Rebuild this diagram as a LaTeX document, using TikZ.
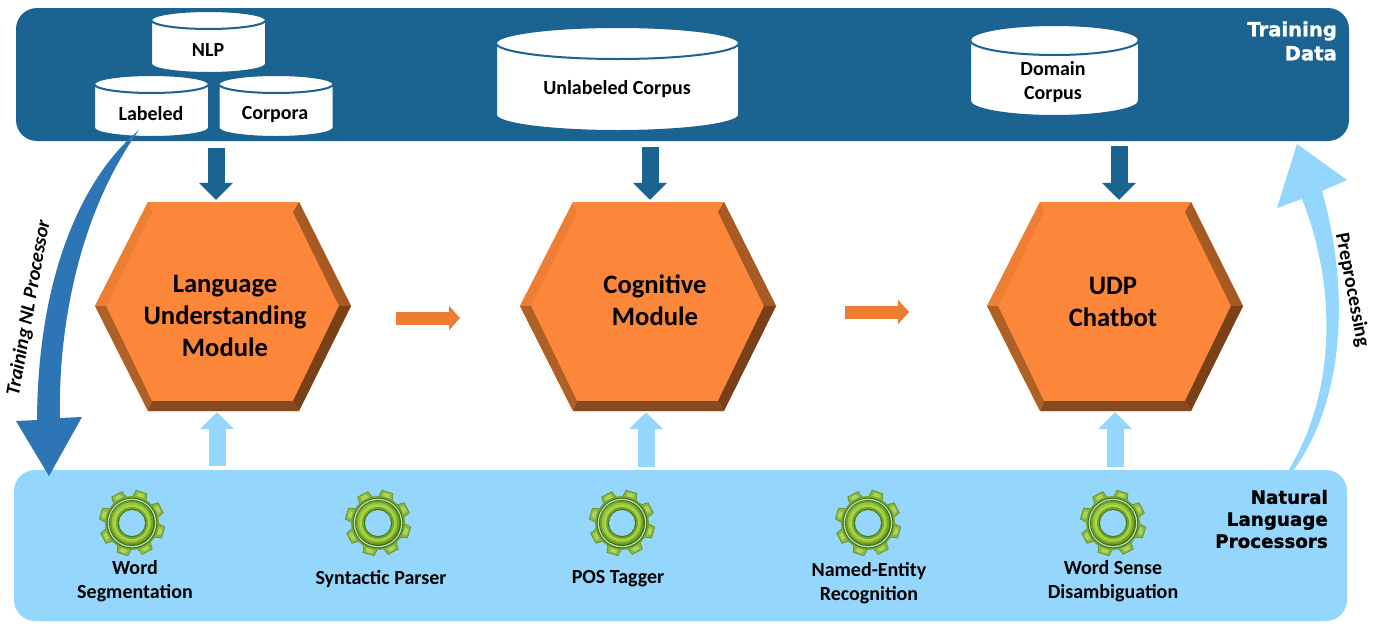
\documentclass[tikz,border=0pt]{standalone}
\usepackage{fontspec}
\setmainfont{Carlito}
\newfontfamily\titlefont[BoldFeatures={FakeBold=1.2}]{DejaVu Sans}
\usepackage{tikz}
\usetikzlibrary{arrows.meta,shapes.geometric}
\definecolor{databar}{HTML}{1B6391}
\definecolor{procbar}{HTML}{94D6FC}
\definecolor{trainblue}{HTML}{2E75B6}
\definecolor{stepor}{HTML}{ED7D31}
\definecolor{hexface}{HTML}{FC873A}
\tikzset{
  panel/.style={rounded corners=21pt,draw=none},
  store/.style={cylinder,shape border rotate=90,draw=databar,line width=2pt,fill=white,inner sep=0pt,anchor=shape center},
  storelabel/.style={font=\fontsize{20}{24}\selectfont\bfseries,align=center,inner sep=0pt},
  hexlabel/.style={font=\fontsize{26.6}{32}\selectfont\bfseries,align=center,inner sep=0pt},
  gearlabel/.style={font=\fontsize{20}{24}\selectfont\bfseries,align=center,inner sep=0pt},
  paneltitle/.style={titlefont,align=right,inner sep=0pt,anchor=east},
  titlefont/.style={font=\fontsize{18.3}{22}\selectfont\titlefont\bfseries},
  feed/.style={-{Triangle[length=17pt,width=33pt]},line width=17pt,databar,shorten >=2pt},
  raise/.style={-{Triangle[length=17pt,width=33pt]},line width=17pt,procbar,shorten >=1pt},
  stepflow/.style={-{Triangle[length=11pt,width=24pt]},line width=13pt,stepor}
}
\begin{document}
\begin{tikzpicture}[x=1pt,y=-1pt]
    \useasboundingbox (0,0) rectangle (1374,627);
    \fill[databar,panel] (16,8) rectangle (1349,141);
    \fill[procbar,panel] (14,470) rectangle (1347,621);
    % stores
    \node[store,minimum width=115pt,minimum height=62pt,aspect=0.45] (nlp) at (208.5,42) {\hspace*{40pt}\strut};
    \node[store,minimum width=115pt,minimum height=62pt,aspect=0.45] (labeled) at (151.5,106) {\hspace*{40pt}\strut};
    \node[store,minimum width=115pt,minimum height=62pt,aspect=0.45] (corpora) at (276,106) {\hspace*{40pt}\strut};
    \node[store,minimum width=243pt,minimum height=104pt,aspect=0.8] (unlabeled) at (617.5,79) {\hspace*{40pt}\strut};
    \node[store,minimum width=169pt,minimum height=91pt,aspect=0.75] (domain) at (1054.5,70.5) {\hspace*{40pt}\strut};
    \node[storelabel] (nlptext) at (208,50) {NLP};
    \node[storelabel] (labeledtext) at (151,114) {Labeled};
    \node[storelabel] (corporatext) at (275,115) {Corpora};
    \node[storelabel] (unlabeledtext) at (617,89) {Unlabeled Corpus};
    \node[storelabel] (domaintext) at (1053,82) {Domain\\Corpus};
    \node[paneltitle,font=\fontsize{19.6}{24}\selectfont\titlefont\bfseries,text=white] (traindata) at (1337,41) {Training\\Data};
    \node[paneltitle] (nlproc) at (1328,519) {Natural\\Language\\Processors};
    % hexagons
    \foreach \hx/\hname in {223/lu,648/cog,1115/udp} {
        \fill[hexface] (\hx-75,202)--(\hx+76,202)--(\hx+128,306)--(\hx+76,411)--(\hx-75,411)--(\hx-128,306)--cycle;
        \fill[color={rgb,255:red,238;green,126;blue,51}] (\hx-75,202)--(\hx-71,212)--(\hx-117,306)--(\hx-128,306)--cycle;
        \fill[color={rgb,255:red,168;green,90;blue,36}] (\hx+76,202)--(\hx+70,212)--(\hx+116,306)--(\hx+128,306)--cycle;
        \fill[color={rgb,255:red,122;green,64;blue,25}] (\hx+128,306)--(\hx+116,306)--(\hx+70,401)--(\hx+76,411)--cycle;
        \fill[color={rgb,255:red,132;green,74;blue,34}] (\hx+76,411)--(\hx+70,401)--(\hx-71,401)--(\hx-75,411)--cycle;
        \fill[color={rgb,255:red,174;green,96;blue,39}] (\hx-75,411)--(\hx-71,401)--(\hx-117,306)--(\hx-128,306)--cycle;
        \node[minimum width=256pt,minimum height=209pt,inner sep=0pt] (\hname) at (\hx,306.5) {};
    }
    \node[hexlabel] (lutext) at (225,316) {Language\\Understanding\\Module};
    \node[hexlabel] (cogtext) at (655,300) {Cognitive\\Module};
    \node[hexlabel] (udptext) at (1113,302) {UDP\\Chatbot};
    % arrows between panels and hexagons
    \foreach \fx/\fy/\hname in {216/148/lu,650/147/cog,1119/146/udp} {
        \coordinate (feed\hname) at (\fx,\fy);
        \draw[feed] (feed\hname)--(feed\hname |- \hname.north);
    }
    \foreach \rx/\ry/\hname in {217/466/lu,646/467/cog,1115/467/udp} {
        \coordinate (raise\hname) at (\rx,\ry);
        \draw[raise] (raise\hname)--(raise\hname |- \hname.south);
    }
    \coordinate (stepa) at (396,318); \coordinate (stepb) at (460,318);
    \coordinate (stepc) at (845,312); \coordinate (stepd) at (909,312);
    \draw[stepflow] (stepa)--(stepb);
    \draw[stepflow] (stepc)--(stepd);
    % big curved arrows
    \coordinate (traintail) at (139,130); \coordinate (traintip) at (49,476);
    \fill[trainblue] (traintail) .. controls (85,175) and (38,270) .. (37,420)--(16,421)--(traintip)--(82,417)--(60,418)
        .. controls (58,330) and (78,215) .. (traintail);
    \coordinate (pretail) at (1288,471); \coordinate (pretip) at (1297,144);
    \fill[procbar] (pretail) .. controls (1335,395) and (1338,290) .. (1302,199)--(1277,208)--(pretip)--(1347,180)--(1322,191)
        .. controls (1350,290) and (1345,400) .. (1293,471)--cycle;
    \node[font=\fontsize{20}{24}\selectfont\bfseries\itshape,rotate=80,inner sep=0pt] (trainlabel) at (29,308) {Training NL Processor};
    \node[font=\fontsize{20}{24}\selectfont\bfseries,rotate=-79,inner sep=0pt] (prelabel) at (1352,290) {Preprocessing};
    % gears
    \foreach \gx in {132,378,622,868,1113} {
        \begin{scope}[shift={(\gx,523)}]
            \foreach \a in {17,62,...,332} {
                \fill[color={rgb,255:red,141;green,184;blue,63},draw={rgb,255:red,94;green,138;blue,31},line width=0.6pt] (\a-17:25)--(\a-10:33)--(\a+10:33)--(\a+17:25)--cycle;
                \fill[color={rgb,255:red,172;green,214;blue,90}] (\a-8:27)--(\a-5:31)--(\a+5:31)--(\a+8:27)--cycle;
            }
            \fill[color={rgb,255:red,122;green,165;blue,44}] (0,0) circle (27);
            \fill[color={rgb,255:red,63;green,110;blue,16}] (0,0) circle (25.3);
            \fill[color={rgb,255:red,183;green,227;blue,200}] (0,0) circle (24.3);
            \fill[color={rgb,255:red,63;green,110;blue,16}] (0,0) circle (23);
            \fill[color={rgb,255:red,111;green,159;blue,34}] (-0.3,-0.3) circle (22);
            \fill[color={rgb,255:red,150;green,196;blue,58}] (-0.5,-0.5) circle (20);
            \fill[color={rgb,255:red,170;green,214;blue,78}] (-0.3,-0.3) circle (18);
            \fill[color={rgb,255:red,118;green,165;blue,38}] (0,0) circle (16);
            \fill[color={rgb,255:red,70;green,118;blue,20}] (0,0) circle (14);
            \fill[procbar] (0,0) circle (13);
        \end{scope}
    }
    \node[gearlabel] (segment) at (135,581) {Word\\Segmentation};
    \node[gearlabel] (parser) at (381,579) {Syntactic Parser};
    \node[gearlabel] (tagger) at (618,579) {POS Tagger};
    \node[gearlabel] (entity) at (869,583) {Named-Entity\\Recognition};
    \node[gearlabel] (sense) at (1113,581) {Word Sense\\Disambiguation};
\end{tikzpicture}
\end{document}
